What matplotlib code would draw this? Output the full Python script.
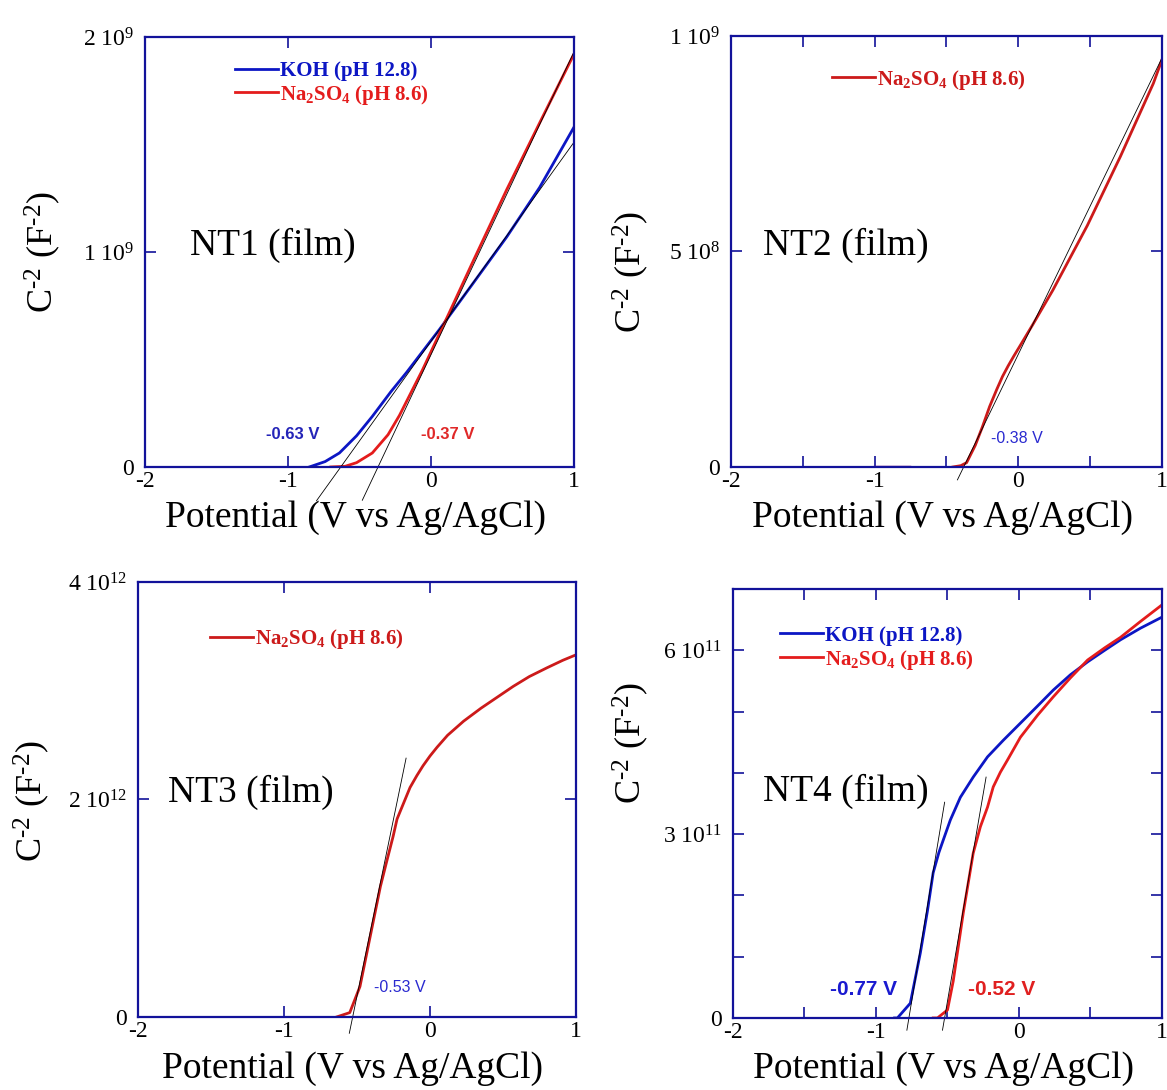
import numpy as np
import matplotlib
matplotlib.use('Agg')
import matplotlib.pyplot as plt
from matplotlib.transforms import offset_copy

plt.rcParams['font.family'] = ['Liberation Serif', 'DejaVu Serif']
plt.rcParams['mathtext.fontset'] = 'custom'
plt.rcParams['mathtext.rm'] = 'Liberation Serif'
plt.rcParams['mathtext.it'] = 'Liberation Serif:italic'
plt.rcParams['mathtext.bf'] = 'Liberation Serif:bold'

# ---------------------------------------------------------
# Data
# ---------------------------------------------------------
# NT1 (film), y in units of 1e9 F^-2
nt1_koh_v = [-0.85, -0.74, -0.64, -0.52, -0.41, -0.28, -0.17, 0.06, 0.29, 0.53, 0.76, 1.0]
nt1_koh_y = [0.0, 0.025, 0.065, 0.145, 0.235, 0.35, 0.44, 0.64, 0.85, 1.07, 1.30, 1.58]
nt1_na_v = [-0.70, -0.60, -0.52, -0.41, -0.30, -0.22, -0.06, 0.13, 0.29, 0.53, 0.76, 1.0]
nt1_na_y = [0.0, 0.003, 0.02, 0.065, 0.15, 0.24, 0.45, 0.72, 0.95, 1.29, 1.60, 1.92]
nt1_fit_koh_v = [-0.80, 1.0]
nt1_fit_koh_y = [-0.157, 1.51]
nt1_fit_na_v = [-0.48, 1.0]
nt1_fit_na_y = [-0.155, 1.93]

# NT2 (film), y in units of 1e9 F^-2
nt2_stub_v = [-1.0, -0.76]
nt2_stub_y = [0.0, 0.0]
nt2_na_v = [-0.455, -0.40, -0.36, -0.30, -0.25, -0.20, -0.15, -0.11, -0.07, -0.03, 0.01,
            0.10, 0.24, 0.48, 0.71, 0.94, 1.0]
nt2_na_y = [0.0, 0.003, 0.01, 0.05, 0.093, 0.14, 0.18, 0.21, 0.235, 0.258, 0.28,
            0.33, 0.41, 0.56, 0.72, 0.89, 0.945]
nt2_fit_v = [-0.424, 1.0]
nt2_fit_y = [-0.03, 0.949]

# NT3 (film), y in units of 1e12 F^-2
nt3_na_v = [-0.64, -0.55, -0.48, -0.41, -0.34, -0.295, -0.253, -0.226, -0.18, -0.137,
            -0.09, -0.048, 0.0, 0.048, 0.12, 0.23, 0.35, 0.46, 0.57, 0.68, 0.80, 0.91, 1.0]
nt3_na_y = [0.0, 0.04, 0.28, 0.74, 1.2, 1.44, 1.66, 1.82, 1.97, 2.11,
            2.22, 2.31, 2.40, 2.48, 2.59, 2.72, 2.84, 2.94, 3.04, 3.13, 3.21, 3.28, 3.33]
nt3_fit_v = [-0.553, -0.164]
nt3_fit_y = [-0.15, 2.38]

# NT4 (film), y in units of 1e11 F^-2
nt4_koh_v = [-0.87, -0.85, -0.76, -0.69, -0.64, -0.60, -0.56, -0.53, -0.48, -0.41, -0.32,
             -0.22, -0.11, 0.01, 0.13, 0.24, 0.36, 0.48, 0.60, 0.71, 0.85, 1.0]
nt4_koh_y = [0.0, 0.0, 0.24, 1.06, 1.75, 2.37, 2.7, 2.9, 3.23, 3.6, 3.93,
             4.26, 4.53, 4.81, 5.09, 5.35, 5.60, 5.81, 6.00, 6.17, 6.36, 6.54]
nt4_na_v = [-0.60, -0.57, -0.50, -0.46, -0.39, -0.32, -0.27, -0.22, -0.18, -0.13, -0.08,
            0.01, 0.13, 0.24, 0.36, 0.48, 0.60, 0.71, 0.85, 1.0]
nt4_na_y = [0.0, 0.0, 0.13, 0.6, 1.71, 2.69, 3.12, 3.44, 3.77, 4.01, 4.21,
            4.58, 4.94, 5.24, 5.55, 5.84, 6.04, 6.21, 6.47, 6.74]
nt4_fit_koh_v = [-0.784, -0.52]
nt4_fit_koh_y = [-0.2, 3.52]
nt4_fit_na_v = [-0.535, -0.23]
nt4_fit_na_y = [-0.2, 3.93]

# Tick positions / labels
x_int_ticks = [-2, -1, 0, 1]
x_int_labels = ['-2', '-1', '0', '1']
x_half_ticks = [-2, -1.5, -1, -0.5, 0, 0.5, 1]
x_half_labels = ['-2', '', '-1', '', '0', '', '1']
nt1_yticks = [0, 1e9, 2e9]
nt1_ylabels = ['0', r'1 10$^{9}$', r'2 10$^{9}$']
nt2_yticks = [0, 5e8, 1e9]
nt2_ylabels = ['0', r'5 10$^{8}$', r'1 10$^{9}$']
nt3_yticks = [0, 2e12, 4e12]
nt3_ylabels = ['0', r'2 10$^{12}$', r'4 10$^{12}$']
nt4_yticks = [0, 1e11, 2e11, 3e11, 4e11, 5e11, 6e11, 7e11]
nt4_ylabels = ['0', '', '', r'3 10$^{11}$', '', '', r'6 10$^{11}$', '']

KOH_LABEL = 'KOH (pH 12.8)'
NA_LABEL = r'Na$_\mathbf{2}$SO$_\mathbf{4}$ (pH 8.6)'
YLABEL = r'C$^{\text{-2}}$ (F$^{\text{-2}}$)'
XLABEL = 'Potential (V vs Ag/AgCl)'

# ---------------------------------------------------------
# Styles
# ---------------------------------------------------------
FRAME = '#12129a'
BLUE = '#0c16c4'
RED = '#e41c1c'
DARKRED = '#cc1a1a'

fig = plt.figure(figsize=(11.67, 10.9), dpi=100)


def make_axes(rect, ylim, xticks, xlabels, yticks, ylabels, ylab_pos):
    ax = fig.add_axes(rect)
    ax.set_xlim(-2, 1)
    ax.set_ylim(0, ylim)
    ax.set_xticks(xticks, xlabels)
    ax.set_yticks(yticks, ylabels)
    ax.tick_params(direction='in', length=8, width=1.2, color=FRAME,
                   top=True, right=True, labelsize=17)
    ax.tick_params(axis='x', pad=3)
    ax.tick_params(axis='y', pad=8)
    for s in ax.spines.values():
        s.set_color(FRAME)
        s.set_linewidth(1.6)
    ax.set_xlabel(XLABEL, fontsize=27)
    ax.xaxis.set_label_coords(0.49, -0.078)
    ax.set_ylabel(YLABEL, fontsize=26)
    ax.yaxis.label.set_va('center')
    ax.yaxis.set_label_coords(*ylab_pos)
    return ax


def legend_entry(ax, x0, x1, y, color, label):
    ax.plot([x0, x1], [y, y], color=color, lw=2, transform=ax.transAxes)
    tr = offset_copy(ax.transAxes, fig=fig, y=-5.5, units='points')
    ax.text(x1 + 0.005, y, label, color=color, fontsize=15, fontweight='bold',
            ha='left', va='baseline', transform=tr)


def fit_line(ax, v, y):
    ax.plot(v, y, color='black', lw=0.6, clip_on=False)


# ---------------- NT1 ----------------
ax1 = make_axes([0.1242, 0.5716, 0.3676, 0.3945], 2e9, x_int_ticks, x_int_labels,
                nt1_yticks, nt1_ylabels, (-0.238, 0.50))
ax1.plot(nt1_koh_v, np.array(nt1_koh_y) * 1e9, color=BLUE, lw=2)
ax1.plot(nt1_na_v, np.array(nt1_na_y) * 1e9, color=RED, lw=2)
fit_line(ax1, nt1_fit_koh_v, np.array(nt1_fit_koh_y) * 1e9)
fit_line(ax1, nt1_fit_na_v, np.array(nt1_fit_na_y) * 1e9)
legend_entry(ax1, 0.21, 0.31, 0.926, BLUE, KOH_LABEL)
legend_entry(ax1, 0.21, 0.31, 0.872, RED, NA_LABEL)
ax1.text(0.105, 0.516, 'NT1 (film)', fontsize=27, va='center', transform=ax1.transAxes)
ax1.text(-0.965, 0.149e9, '-0.63 V', color='#2424b8', fontsize=12, fontweight='bold',
         family='Liberation Sans', ha='center', va='center')
ax1.text(0.12, 0.149e9, '-0.37 V', color='#e02828', fontsize=12, fontweight='bold',
         family='Liberation Sans', ha='center', va='center')

# ---------------- NT2 ----------------
ax2 = make_axes([0.6264, 0.5716, 0.3693, 0.3954], 1e9, x_half_ticks, x_half_labels,
                nt2_yticks, nt2_ylabels, (-0.232, 0.452))
ax2.plot(nt2_stub_v, np.array(nt2_stub_y) * 1e9, color='#80208a', lw=2.5)
ax2.plot(nt2_na_v, np.array(nt2_na_y) * 1e9, color=DARKRED, lw=2)
fit_line(ax2, nt2_fit_v, np.array(nt2_fit_y) * 1e9)
legend_entry(ax2, 0.234, 0.334, 0.905, DARKRED, NA_LABEL)
ax2.text(0.074, 0.515, 'NT2 (film)', fontsize=27, va='center', transform=ax2.transAxes)
ax2.text(-0.01, 0.067e9, '-0.38 V', color='#2a2ad0', fontsize=11.5,
         family='Liberation Sans', ha='center', va='center')

# ---------------- NT3 ----------------
ax3 = make_axes([0.1183, 0.0670, 0.3753, 0.3991], 4e12, x_int_ticks, x_int_labels,
                nt3_yticks, nt3_ylabels, (-0.242, 0.497))
ax3.plot(nt3_na_v, np.array(nt3_na_y) * 1e12, color=DARKRED, lw=2)
fit_line(ax3, nt3_fit_v, np.array(nt3_fit_y) * 1e12)
legend_entry(ax3, 0.164, 0.263, 0.874, DARKRED, NA_LABEL)
ax3.text(0.068, 0.517, 'NT3 (film)', fontsize=27, va='center', transform=ax3.transAxes)
ax3.text(-0.205, 0.27e12, '-0.53 V', color='#2a2ad0', fontsize=11.5,
         family='Liberation Sans', ha='center', va='center')

# ---------------- NT4 ----------------
ax4 = make_axes([0.6281, 0.0661, 0.3676, 0.3936], 7e11, x_half_ticks, x_half_labels,
                nt4_yticks, nt4_ylabels, (-0.238, 0.641))
ax4.plot(nt4_koh_v, np.array(nt4_koh_y) * 1e11, color=BLUE, lw=2)
ax4.plot(nt4_na_v, np.array(nt4_na_y) * 1e11, color=RED, lw=2)
fit_line(ax4, nt4_fit_koh_v, np.array(nt4_fit_koh_y) * 1e11)
fit_line(ax4, nt4_fit_na_v, np.array(nt4_fit_na_y) * 1e11)
legend_entry(ax4, 0.110, 0.210, 0.897, BLUE, KOH_LABEL)
legend_entry(ax4, 0.110, 0.210, 0.841, RED, NA_LABEL)
ax4.text(0.070, 0.529, 'NT4 (film)', fontsize=27, va='center', transform=ax4.transAxes)
ax4.text(-1.09, 0.46e11, '-0.77 V', color='#1a1ad0', fontsize=15, fontweight='bold',
         family='Liberation Sans', ha='center', va='center')
ax4.text(-0.12, 0.46e11, '-0.52 V', color='#e02020', fontsize=15, fontweight='bold',
         family='Liberation Sans', ha='center', va='center')

fig.savefig('out.png', dpi=100)
